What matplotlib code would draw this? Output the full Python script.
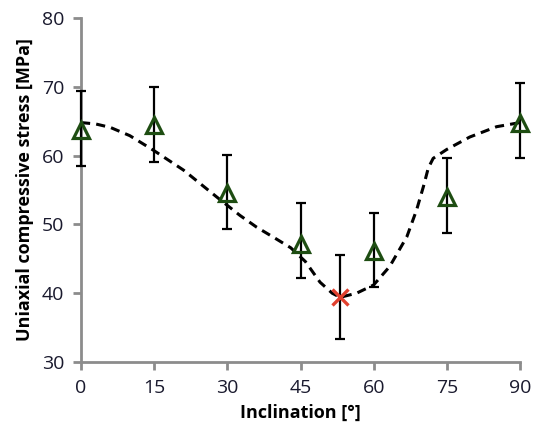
import numpy as np
import matplotlib.pyplot as plt

# measured strength at each inclination
incl = [0, 15, 30, 45, 60, 75, 90]
ucs = [63.7, 64.4, 54.6, 47.2, 46.2, 54.0, 64.7]
err_lo = [58.5, 59.0, 49.3, 42.2, 40.9, 48.8, 59.7]
err_hi = [69.4, 69.9, 60.1, 53.1, 51.7, 59.7, 70.6]

# minimum point (red cross)
min_x = [53]
min_y = [39.4]
min_lo = [33.4]
min_hi = [45.5]

# dashed trend curve
curve_x = [0, 3, 6, 10, 14.8, 21, 27.8, 32.6, 36, 40, 43, 46, 49, 51.5, 53.1, 56.5, 60,
           63.3, 66.8, 68.8, 70.2, 71.2, 72.2, 75, 79.7, 85.2, 90]
curve_y = [64.8, 64.6, 64.1, 62.9, 60.8, 57.9, 54.0, 51.3, 49.6, 47.9, 46.6, 44.6, 41.6, 40.0, 39.4, 40.0,
           41.2, 43.9, 48.2, 52.1, 55.5, 58.2, 59.6, 60.9, 62.7, 64.2, 64.8]

plt.rcParams['font.family'] = ['Open Sans', 'DejaVu Sans']

fig = plt.figure(figsize=(5.36, 4.30), dpi=100)
ax = fig.add_axes([81 / 536, 1 - 362 / 430, (520 - 81) / 536, (362 - 18) / 430])

ax.plot(curve_x, curve_y, linestyle=(0, (3, 2)), color='black', linewidth=2.2, zorder=2)

yerr = [np.array(ucs) - np.array(err_lo), np.array(err_hi) - np.array(ucs)]
ax.errorbar(incl, ucs, yerr=yerr, fmt='none', ecolor='black', elinewidth=1.6,
            capsize=3.5, capthick=1.6, zorder=3, clip_on=False)
ax.plot(incl, ucs, linestyle='none', marker='^', markersize=11, markerfacecolor='none',
        markeredgecolor='#1e4d12', markeredgewidth=2.3, zorder=4, clip_on=False)

myerr = [np.array(min_y) - np.array(min_lo), np.array(min_hi) - np.array(min_y)]
ax.errorbar(min_x, min_y, yerr=myerr, fmt='none', ecolor='black', elinewidth=1.6,
            capsize=3.5, capthick=1.6, zorder=3)
ax.plot(min_x, min_y, linestyle='none', marker='x', markersize=11,
        markeredgecolor='#e0402e', markeredgewidth=2.4, zorder=4)

ax.set_xlim(0, 90)
ax.set_ylim(30, 80)
ax.set_xticks([0, 15, 30, 45, 60, 75, 90])
ax.set_yticks([30, 40, 50, 60, 70, 80])

for s in ['top', 'right']:
    ax.spines[s].set_visible(False)
for s in ['left', 'bottom']:
    ax.spines[s].set_color('#8c8c8c')
    ax.spines[s].set_linewidth(2)
ax.tick_params(axis='both', colors='#8c8c8c', width=2, length=6, labelsize=14,
               labelcolor='#1a1a2e', pad=6)

ax.set_xlabel('Inclination [°]', fontsize=13, fontweight='bold', labelpad=5)
ax.set_ylabel('Uniaxial compressive stress [MPa]', fontsize=13, fontweight='bold', labelpad=6)

fig.savefig('out.png', dpi=100)
